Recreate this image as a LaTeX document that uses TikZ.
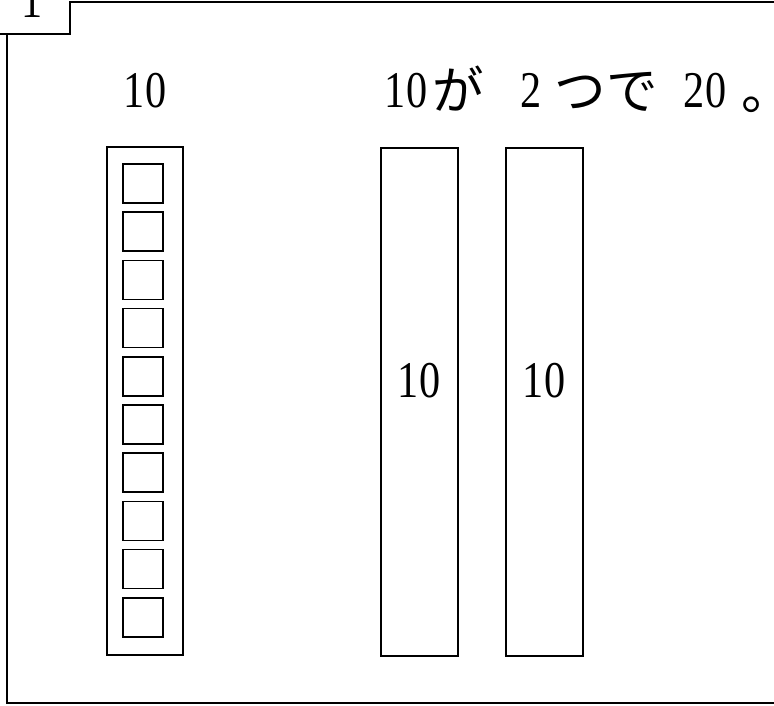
\documentclass[tikz,border=0pt]{standalone}
\usepackage{fontspec}
\newfontfamily\jp{Noto Sans CJK JP}
\newfontfamily\dgt{Liberation Serif}
\newcommand\narrow[1]{\scalebox{0.82}[1]{\dgt #1}}

\begin{document}
\begin{tikzpicture}[x=0.03cm, y=-0.03cm, line width=1.4pt, every node/.style={inner sep=0pt, anchor=base, font=\fontsize{44}{48}\selectfont}, kana/.style={font=\jp\fontsize{44}{48}\selectfont}]
  \useasboundingbox (0,0) rectangle (774,706);
  \clip (0,0) rectangle (774,706);
  % frame and tab
  \node (num) at (32,18) {\narrow{1}};
  \draw[line width=1.6pt] (0,34) -- (70,34) -- (70,2) -- (780,2);
  \draw[line width=1.6pt] (7,34) -- (7,703) -- (780,703);
  % heading
  \node (ten) at (145,108) {\narrow{10}};
  \node (t10) at (406,108) {\narrow{10}};
  \node[kana] (ga) at (458,110) {が};
  \node (t2) at (531,108) {\narrow{2}};
  \node[kana] (tsude) at (606,110) {つで};
  \node (t20) at (705,108) {\narrow{20}};
  \node[kana, anchor=base west] (maru) at (741,110) {。};
  % stick of ten ones
  \draw (107,147) rectangle (183,655);
  \draw (123,164) rectangle (163,203);
  \draw (123,212.2) rectangle (163,251.2);
  \draw (123,260.4) rectangle (163,299.4);
  \draw (123,308.6) rectangle (163,347.6);
  \draw (123,356.8) rectangle (163,395.8);
  \draw (123,405) rectangle (163,444);
  \draw (123,453.2) rectangle (163,492.2);
  \draw (123,501.4) rectangle (163,540.4);
  \draw (123,549.6) rectangle (163,588.6);
  \draw (123,597.8) rectangle (163,636.8);
  % two tens
  \draw (381,148) rectangle (458,656);
  \draw (506,148) rectangle (583,656);
  \node (b1) at (419,397) {\narrow{10}};
  \node (b2) at (544,397) {\narrow{10}};
\end{tikzpicture}
\end{document}
